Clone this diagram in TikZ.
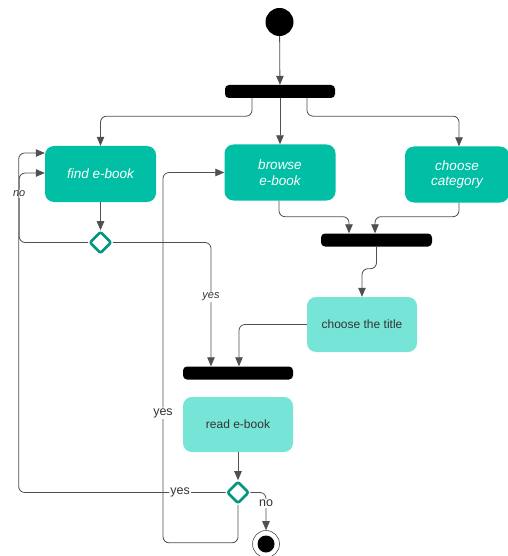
\documentclass[tikz,border=0pt]{standalone}
\usepackage{fontspec}
\setmainfont{Liberation Sans}
\usetikzlibrary{shapes.geometric,arrows.meta,calc}
\definecolor{tealdark}{RGB}{0,191,165}
\definecolor{teallight}{RGB}{118,229,215}
\definecolor{tealline}{RGB}{0,150,128}
\definecolor{linegray}{RGB}{80,80,80}
\definecolor{txtgray}{RGB}{51,51,51}
\tikzset{
  actdark/.style={rectangle, rounded corners=9pt, fill=tealdark, text=white,
    font=\fontsize{13.5}{15.5}\selectfont\itshape, minimum width=111pt, minimum height=56pt,
    align=center, inner sep=0pt},
  actlight/.style={rectangle, rounded corners=9pt, fill=teallight, text=txtgray,
    font=\fontsize{12}{14}\selectfont, minimum width=110pt, minimum height=55pt,
    align=center, inner sep=0pt},
  bar/.style={rectangle, rounded corners=4pt, fill=black, minimum width=110pt,
    minimum height=13pt, inner sep=0pt},
  decision/.style={diamond, draw=tealline, line width=2.6pt, fill=white,
    minimum width=22pt, minimum height=22pt, inner sep=0pt, rounded corners=2pt},
  arr/.style={draw=linegray, line width=0.8pt, rounded corners=6pt,
    -{Triangle[length=9pt,width=7.5pt]}},
  lblit/.style={font=\fontsize{11}{12}\selectfont\itshape, text=txtgray, fill=white,
    inner sep=1pt},
  lbl/.style={font=\fontsize{12.5}{14}\selectfont, text=txtgray, fill=white,
    inner sep=1pt},
}
\begin{document}
\begin{tikzpicture}[x=1pt,y=-1pt]
\useasboundingbox (0,0) rectangle (507,556);
% nodes
\node[circle, fill=black, minimum size=28pt, inner sep=0pt] (start) at (279.5,22) {};
\node[bar] (fork) at (280,91.5) {};
\node[actdark] (find) at (100.5,174) {find e-book};
\node[actdark] (browse) at (280,172.5) {browse\\e-book};
\node[actdark, minimum width=104pt] (cat) at (457,174.5) {choose\\category};
\node[bar, minimum width=111pt] (join) at (376.5,240) {};
\node[actlight] (title) at (362,324.5) {choose the title};
\node[bar] (merge) at (238,373) {};
\node[actlight] (read) at (238,424.5) {read e-book};
\node[decision] (d1) at (100.5,242.5) {};
\node[decision] (d2) at (238,492.5) {};
\node[circle, draw=linegray, line width=0.6pt, minimum size=27pt, inner sep=0pt, fill=white] (end) at (266,544) {};
\fill[black] (end.center) circle (8.5pt);
% connectors
\draw[arr] (start) -- (fork);
\draw[arr] (fork.south) -- (browse.north);
\draw[arr] ([xshift=-28pt]fork.south) -- ++(0,18) -| (find.north);
\draw[arr] ([xshift=27pt]fork.south) -- ++(0,18) -| ([xshift=2pt]cat.north);
\draw[arr] ([xshift=-1pt]browse.south) -- ++(0,16) -| ([xshift=-27.5pt]join.north);
\draw[arr] ([xshift=2pt]cat.south) -- ++(0,14) -| ([xshift=-1.5pt]join.north);
\draw[arr] (join.south) -- ++(0,22) -| (title.north);
\draw[arr] (title.west) -| ([xshift=1pt]merge.north);
\draw[arr] (find) -- (d1);
\draw[arr] (d1.east) -| node[lblit, pos=0.72] {yes} ([xshift=-27pt]merge.north);
\draw[arr] (d1.west) -- ++(-69,0) |- node[lblit, pos=0.35] {no} ([yshift=1pt]find.west);
\draw[arr] (read) -- (d2);
\draw[arr] (d2.west) -- node[lbl, pos=0.22] {yes} ++(-207,0) |- ([yshift=21pt]find.west);
\draw[arr] (d2.east) -| node[lbl, pos=0.645] {no} (end.north);
\draw[arr] (d2.south) -- ++(0,38) -- ++(-75,0) |- node[lbl, pos=0.175] {yes} (browse.west);
\end{tikzpicture}
\end{document}
